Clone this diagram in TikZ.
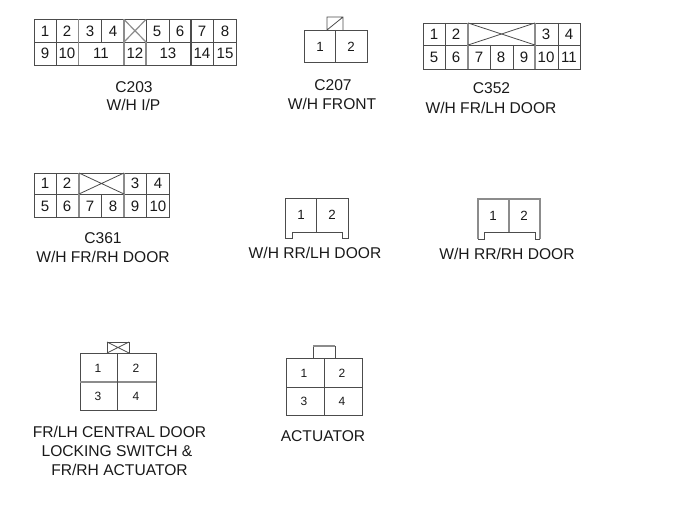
\documentclass[tikz,border=0pt]{standalone}
\usepackage{fontspec}
\setmainfont{Liberation Sans}
\tikzset{
  wall/.style={draw=black!70,line width=0.6pt},
  softwall/.style={draw=black!45,line width=0.9pt},
  pin/.style={font=\fontsize{11.3}{13}\selectfont,inner sep=0pt,text=black!90},
  midpin/.style={font=\fontsize{10}{12}\selectfont,inner sep=0pt,text=black!90},
  smallpin/.style={font=\fontsize{9}{10}\selectfont,inner sep=0pt,text=black!90},
  caption/.style={font=\fontsize{11.7}{13}\selectfont,inner sep=0pt,text=black!90}
}
\begin{document}
\begin{tikzpicture}[x=0.75pt,y=-0.75pt]
\useasboundingbox (0,0) rectangle (700,528);
% C203
\draw[wall] (34,19.5) rectangle (236,65);
\draw[wall] (34,42) -- (236,42);
\foreach \x in {56,101,146,169,213} \draw[wall] (\x,19.5) -- (\x,42);
\foreach \x in {56,213} \draw[wall] (\x,42) -- (\x,65);
\draw[wall,line width=0.9pt] (191,19.5) -- (191,65);
\foreach \x in {78.5,124} \draw[softwall] (\x,19.5) -- (\x,65);
\draw[softwall] (146,42) -- (146,65);
\draw[softwall] (124,19.5) -- (146,42) (124,42) -- (146,19.5);
\foreach \n/\x in {1/45,2/67,3/90,4/113,5/157,6/180,7/202,8/225}
  \node[pin] (cA\n) at (\x,31) {\n};
\foreach \n/\x in {9/45,10/67,11/101,12/135,13/168,14/202,15/225}
  \node[pin] (cA\n) at (\x,53) {\n};
\node[caption] (cAname) at (134,87) {C203};
\node[caption] (cAharness) at (133.5,105) {W/H I/P};
% C207
\draw[wall] (304,30) rectangle (367,62);
\draw[wall] (335,30) -- (335,62);
\draw[wall] (327,30) -- (327,17) -- (343,17) -- (343,30) (327,30) -- (343,17);
\node[midpin] (cB1) at (320,47) {1};
\node[midpin] (cB2) at (351,47) {2};
\node[caption] (cBname) at (333,85) {C207};
\node[caption] (cBharness) at (332,104) {W/H FRONT};
% C352
\draw[wall] (423,23) rectangle (580,69);
\draw[wall] (423,45) -- (580,45);
\foreach \x in {445,558} \draw[wall] (\x,23) -- (\x,69);
\foreach \x in {490,513} \draw[wall] (\x,45) -- (\x,69);
\foreach \x in {468,535} \draw[softwall] (\x,23) -- (\x,69);
\draw[wall] (468,23) -- (535,45) (468,45) -- (535,23);
\foreach \n/\x in {1/434,2/456,3/546,4/569}
  \node[pin] (cC\n) at (\x,34) {\n};
\foreach \n/\x in {5/434,6/456,7/479,8/501,9/524,10/546,11/569}
  \node[pin] (cC\n) at (\x,57) {\n};
\node[caption] (cCname) at (491.5,88) {C352};
\node[caption] (cCharness) at (491,108) {W/H FR/LH DOOR};
% C361
\draw[wall] (34,173) rectangle (169,217);
\draw[wall] (34,194) -- (169,194);
\foreach \x in {56.5,146.5} \draw[wall] (\x,173) -- (\x,217);
\draw[wall] (101.5,194) -- (101.5,217);
\foreach \x in {79,124} \draw[softwall] (\x,173) -- (\x,217);
\draw[wall] (79,173) -- (124,194) (79,194) -- (124,173);
\foreach \n/\x in {1/45,2/67,3/135,4/158}
  \node[pin] (cD\n) at (\x,183) {\n};
\foreach \n/\x in {5/45,6/67,7/90,8/113,9/135,10/158}
  \node[pin] (cD\n) at (\x,206) {\n};
\node[caption] (cDname) at (103,238) {C361};
\node[caption] (cDharness) at (103,257) {W/H FR/RH DOOR};
% RR/LH door
\draw[wall] (285,238) -- (285,198) -- (348,198) -- (348,238) -- (342,238) -- (342,232) -- (292,232) -- (292,238) -- cycle;
\draw[wall] (316,198) -- (316,232);
\node[midpin] (cE1) at (301,215) {1};
\node[midpin] (cE2) at (332,215) {2};
\node[caption] (cEharness) at (315,253) {W/H RR/LH DOOR};
% RR/RH door
\draw[softwall] (478,239) -- (478,199) -- (540,199) -- (540,239);
\draw[softwall] (509,199) -- (509,232);
\draw[wall] (478,239) -- (484,239) -- (484,232) -- (535,232) -- (535,239) -- (540,239);
\node[midpin] (cF1) at (493,216) {1};
\node[midpin] (cF2) at (524,216) {2};
\node[caption] (cFharness) at (507,254) {W/H RR/RH DOOR};
% FR/LH central door switch
\draw[wall] (80,353) rectangle (156,410);
\draw[softwall] (80,382) -- (156,382);
\draw[wall] (117,353) -- (117,410);
\draw[wall] (107,342) rectangle (129,353);
\draw[wall] (107,342) -- (129,353) (107,353) -- (129,342);
\node[smallpin] (cG1) at (98,368) {1};
\node[smallpin] (cG2) at (136,368) {2};
\node[smallpin] (cG3) at (98,396) {3};
\node[smallpin] (cG4) at (136,396) {4};
\node[caption] (cGlineA) at (119.5,432) {FR/LH CENTRAL DOOR};
\node[caption] (cGlineB) at (117,451) {LOCKING SWITCH \&};
\node[caption] (cGlineC) at (119.5,470) {FR/RH ACTUATOR};
% actuator
\draw[wall] (286,358) rectangle (362,415);
\draw[wall] (286,387) -- (362,387);
\draw[wall] (324,358) -- (324,415);
\draw[wall] (313,358) -- (313,346);
\draw[softwall] (313,346) -- (335,346);
\draw[wall] (335,346) -- (335,358);
\node[smallpin] (cH1) at (304,373) {1};
\node[smallpin] (cH2) at (342,373) {2};
\node[smallpin] (cH3) at (304,401) {3};
\node[smallpin] (cH4) at (342,401) {4};
\node[caption] (cHharness) at (323,436) {ACTUATOR};
\end{tikzpicture}
\end{document}
